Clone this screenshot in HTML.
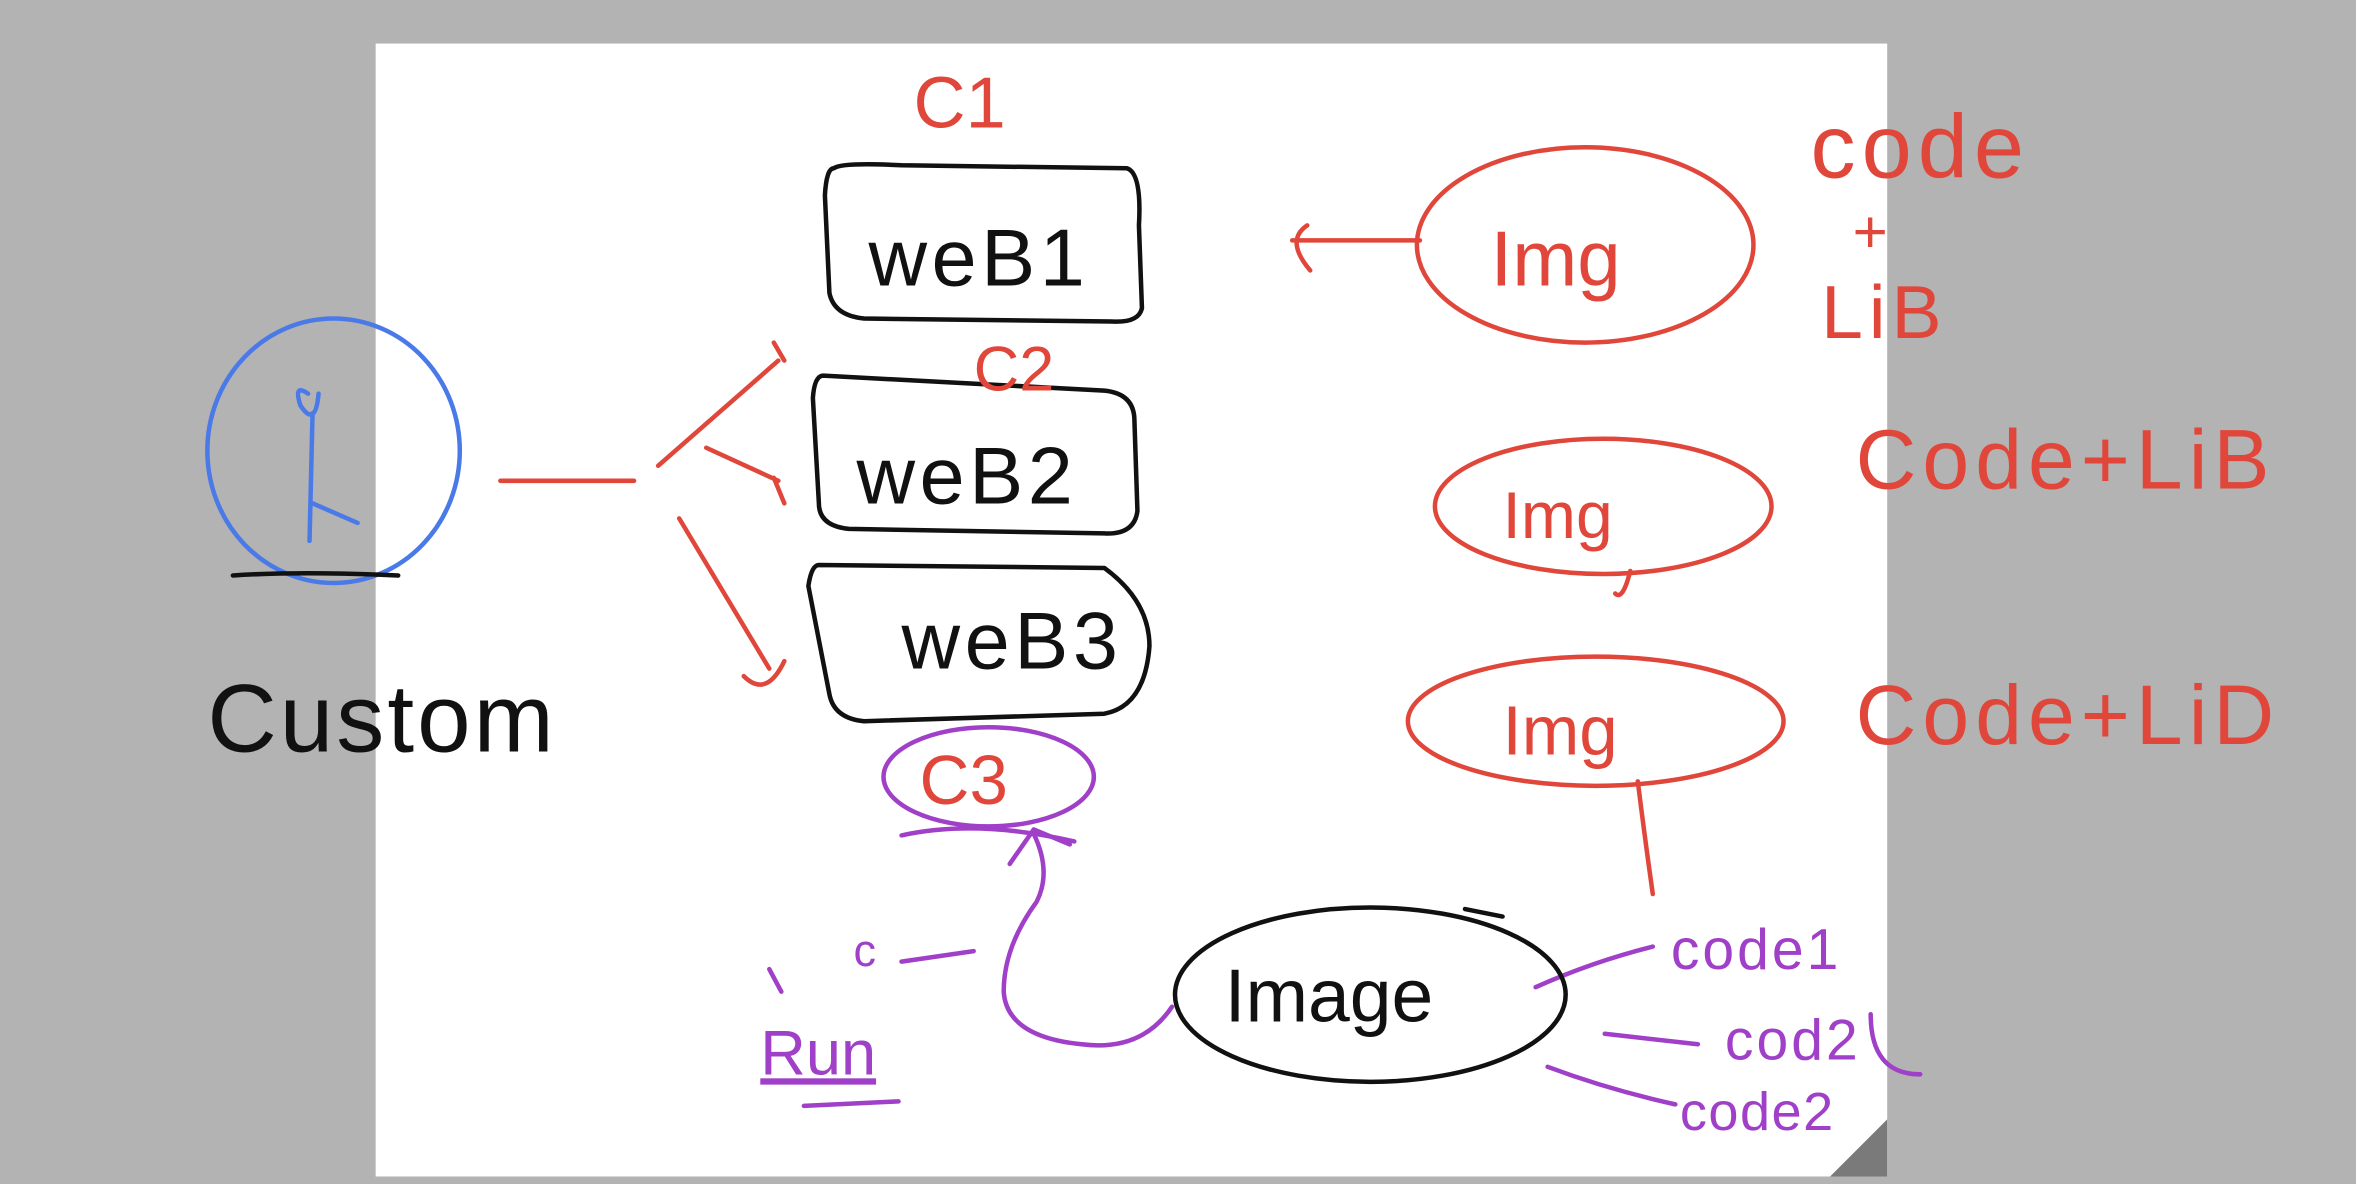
<!DOCTYPE html>
<html><head><meta charset="utf-8"><style>
html,body{margin:0;padding:0;background:#b3b3b3;}
svg{display:block;}
text{font-family:"Liberation Sans",sans-serif;}
</style></head><body>
<svg width="2356" height="1184" viewBox="0 0 1568 788" xmlns="http://www.w3.org/2000/svg">
<rect x="0" y="0" width="1568" height="788" fill="#b3b3b3"/>
<rect x="250" y="29" width="1006" height="754" fill="#fff"/>
<polygon points="1256,745 1256,783 1218,783" fill="#7a7a7a"/>
<g fill="none" stroke-linecap="round" stroke-linejoin="round" stroke-width="3">
 <path d="M555,112 Q560,108 600,110 L750,112 Q760,115 758,150 L760,205 Q758,215 740,214 L575,212 Q555,210 552,195 L549,130 Q550,112 555,112Z" stroke="#111"/>
 <path d="M548,250 L735,260 Q755,262 755,280 L757,340 Q755,356 735,355 L565,352 Q545,350 545,335 L541,265 Q542,250 548,250Z" stroke="#111"/>
 <path d="M545,376 L735,378 Q765,400 765,430 Q762,470 735,475 L575,480 Q555,478 552,462 L538,390 Q540,376 545,376Z" stroke="#111"/>
 <ellipse cx="1055" cy="163" rx="112" ry="65" stroke="#e0463a"/>
 <ellipse cx="1067" cy="337" rx="112" ry="45" stroke="#e0463a"/>
 <ellipse cx="1062" cy="480" rx="125" ry="43" stroke="#e0463a"/>
 <path d="M945,160 L860,160 M870,150 Q855,160 872,180" stroke="#e0463a"/>
 <path d="M1090,520 Q1095,560 1100,595 M1085,380 Q1080,400 1075,395" stroke="#e0463a"/>
 <ellipse cx="222" cy="300" rx="84" ry="88" stroke="#4a7ae8"/>
 <path d="M205,262 Q195,255 200,270 Q210,285 212,262 M208,275 L206,360 M208,335 L238,348" stroke="#4a7ae8"/>
 <path d="M155,383 Q200,380 265,383" stroke="#111"/>
 <path d="M333,320 L422,320 M438,310 L518,240 M515,228 L522,240 M470,298 L518,320 M515,318 L522,335 M452,345 L512,445 M495,450 Q510,465 522,440" stroke="#e0463a"/>
 <ellipse cx="658" cy="517" rx="70" ry="33" stroke="#a040c8"/>
 <path d="M600,556 Q650,545 715,560" stroke="#a040c8"/>
 <path d="M780,670 Q760,700 720,695 Q670,690 668,660 Q668,630 690,600 Q700,580 688,555 M672,575 L688,552 L712,562" stroke="#a040c8"/>
 <path d="M600,640 L648,633 M512,645 L520,660 M535,736 L598,733" stroke="#a040c8"/>
 <path d="M1022,657 Q1060,640 1100,630 M1068,688 L1130,695 M1030,710 Q1070,725 1115,735 M1245,675 Q1245,715 1278,715" stroke="#a040c8"/>
 <ellipse cx="912" cy="662" rx="130" ry="58" stroke="#111"/>
 <path d="M975,605 L1000,610" stroke="#111"/>
</g>
<g font-size="54" fill="#111" font-weight="300">
 <text x="578" y="190" letter-spacing="3">weB1</text>
 <text x="570" y="335" letter-spacing="3">weB2</text>
 <text x="600" y="445" letter-spacing="3">weB3</text>
 <text x="815" y="680" font-size="50">Image</text>
 <text x="138" y="500" font-size="64" letter-spacing="2">Custom</text>
</g>
<g fill="#e0463a">
 <text x="608" y="85" font-size="48">C1</text>
 <text x="648" y="260" font-size="42">C2</text>
 <text x="612" y="535" font-size="46">C3</text>
 <text x="992" y="190" font-size="52">Img</text>
 <text x="1000" y="358" font-size="44">Img</text>
 <text x="1000" y="502" font-size="46">Img</text>
 <text x="1205" y="118" font-size="60" letter-spacing="4">code</text>
 <text x="1233" y="168" font-size="40">+</text>
 <text x="1212" y="225" font-size="50" letter-spacing="4">LiB</text>
 <text x="1235" y="325" font-size="56" letter-spacing="4">Code+LiB</text>
 <text x="1235" y="495" font-size="56" letter-spacing="4">Code+LiD</text>
</g>
<g fill="#a040c8">
 <text x="1112" y="645" font-size="38" letter-spacing="2">code1</text>
 <text x="1148" y="705" font-size="38" letter-spacing="2">cod2</text>
 <text x="1118" y="752" font-size="36" letter-spacing="1">code2</text>
 <text x="568" y="643" font-size="30">c</text>
 <text x="506" y="715" font-size="42" text-decoration="underline">Run</text>
</g>
</svg>
</body></html>
